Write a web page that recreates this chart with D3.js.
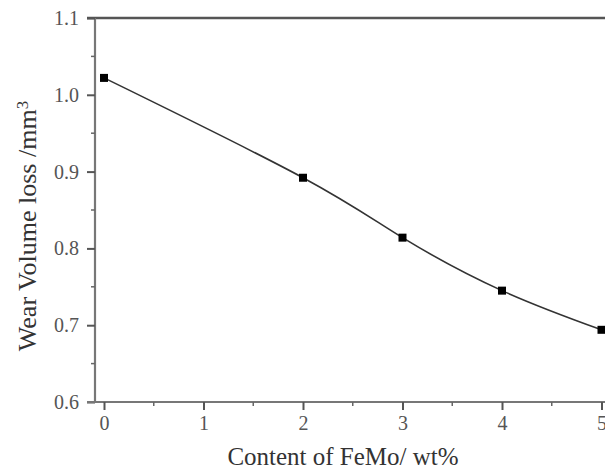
<!DOCTYPE html>
<html>
<head>
<meta charset="utf-8">
<script src="https://cdn.jsdelivr.net/npm/d3@7"></script>
<style>
  body { margin: 0; background: #fff; }
  svg text { font-family: "Liberation Serif", "Times New Roman", serif; }
</style>
</head>
<body>
<script>
// data
var content = [0, 2, 3, 4, 5];
var wearLoss = [1.022, 0.892, 0.814, 0.745, 0.694];
var xTicks = [0, 1, 2, 3, 4, 5];
var yTicks = [0.6, 0.7, 0.8, 0.9, 1.0, 1.1];

var w = 605, h = 470;
var serif = "Liberation Serif";

var svg = d3.select("body").append("svg")
    .attr("width", w)
    .attr("height", h);

// scales: 0 -> 104px, 5 -> 601.5px ; 0.6 -> 402, 1.1 -> 18
var xScale = d3.scaleLinear().domain([0, 5]).range([104, 601.5]);
var yScale = d3.scaleLinear().domain([0.6, 1.1]).range([402, 18]);
var left = 95;

// minor ticks
var xMinor = d3.range(0.5, 5, 1);
var yMinor = d3.range(0.65, 1.1, 0.1);

// top frame line
svg.append("line")
    .attr("x1", left - 8).attr("x2", w)
    .attr("y1", yScale(1.1)).attr("y2", yScale(1.1))
    .attr("stroke", "#555").attr("stroke-width", 2.5);

// y axis
var yAxis = svg.append("g")
    .attr("transform", "translate(" + left + ",0)")
    .call(d3.axisLeft(yScale).tickValues(yTicks).tickSize(8).tickPadding(8)
      .tickFormat(d3.format(".1f")));
yAxis.select(".domain").attr("stroke", "#777").attr("stroke-width", 2.2)
    .attr("d", "M0," + (yScale(0.6) + 1) + "V" + yScale(1.1));
yAxis.selectAll(".tick line").attr("stroke", "#555").attr("stroke-width", 2);
yAxis.selectAll("text").attr("fill", "#555")
    .style("font-family", serif).style("font-size", "20px");

svg.append("g").selectAll("line")
    .data(yMinor)
    .enter().append("line")
    .attr("x1", left - 4).attr("x2", left)
    .attr("y1", function(d) { return yScale(d); })
    .attr("y2", function(d) { return yScale(d); })
    .attr("stroke", "#666").attr("stroke-width", 1.5);

// x axis
var xAxis = svg.append("g")
    .attr("transform", "translate(0," + yScale(0.6) + ")")
    .call(d3.axisBottom(xScale).tickValues(xTicks).tickSize(8).tickPadding(6)
      .tickFormat(d3.format("d")));
xAxis.select(".domain").attr("stroke", "#777").attr("stroke-width", 2.2)
    .attr("d", "M" + (left - 8) + ",0H" + w);
xAxis.selectAll(".tick line").attr("stroke", "#555").attr("stroke-width", 2);
xAxis.selectAll("text").attr("fill", "#555")
    .style("font-family", serif).style("font-size", "20px");

svg.append("g").selectAll("line")
    .data(xMinor)
    .enter().append("line")
    .attr("x1", function(d) { return xScale(d); })
    .attr("x2", function(d) { return xScale(d); })
    .attr("y1", yScale(0.6)).attr("y2", yScale(0.6) + 4)
    .attr("stroke", "#666").attr("stroke-width", 1.5);

// fitted curve
var points = content.map(function(c, i) { return [c, wearLoss[i]]; });
var line = d3.line()
    .x(function(d) { return xScale(d[0]); })
    .y(function(d) { return yScale(d[1]); })
    .curve(d3.curveNatural);

svg.append("path")
    .datum(points)
    .attr("d", line)
    .attr("fill", "none")
    .attr("stroke", "#333")
    .attr("stroke-width", 1.6);

// markers
svg.selectAll("rect.pt")
    .data(points)
    .enter().append("rect")
    .attr("class", "pt")
    .attr("x", function(d) { return xScale(d[0]) - 4; })
    .attr("y", function(d) { return yScale(d[1]) - 4; })
    .attr("width", 8).attr("height", 8)
    .attr("fill", "#000");

// axis titles
svg.append("text")
    .attr("x", 343).attr("y", 465)
    .attr("text-anchor", "middle")
    .attr("fill", "#333")
    .style("font-family", serif)
    .style("font-size", "25px")
    .text("Content of FeMo/ wt%");

var yl = svg.append("text")
    .attr("transform", "translate(36,226) rotate(-90)")
    .attr("text-anchor", "middle")
    .attr("fill", "#333")
    .style("font-family", serif)
    .style("font-size", "26px")
    .text("Wear Volume loss /mm");
yl.append("tspan")
    .attr("dy", "-0.45em")
    .style("font-size", "17px")
    .text("3");
</script>
</body>
</html>
